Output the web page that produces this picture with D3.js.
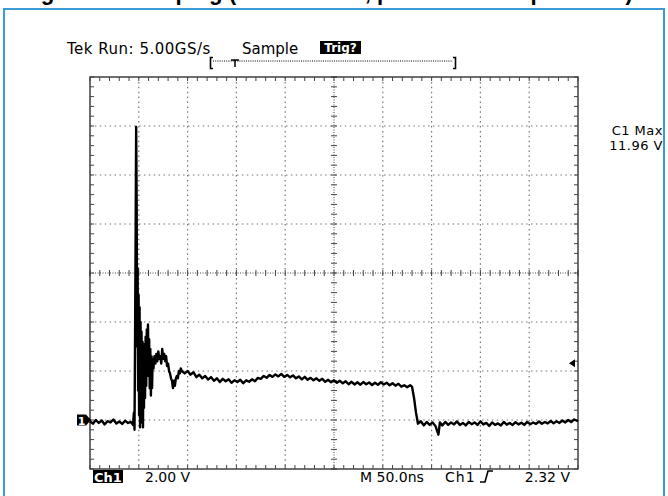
<!DOCTYPE html>
<html>
<head>
<meta charset="utf-8">
<script src="https://cdn.jsdelivr.net/npm/d3@7"></script>
<style>
  body { margin: 0; background: #fff; }
  svg { display: block; }
  text { font-family: "DejaVu Sans", Verdana, sans-serif; }
</style>
</head>
<body>
<div id="scope"></div>
<script>
// scope settings
var titleText = "Figure 3: Clamping (no Transorb, per Oscilloscope Probe)";
var headerLabels = ["Tek Run: 5.00GS/s", "Sample", "Trig?"];
var footerLabels = ["Ch1", "2.00 V", "M 50.0ns", "Ch1", "2.32 V"];
var measureLabels = ["C1 Max", "11.96 V"];
var timeDomain = [0, 500];      // ns, 50 ns/div
var voltDomain = [-2, 14];      // V, 2 V/div
var triggerLevel = 2.32;

// trace: time (ns) and volts
var traceTimes = [
  0, 3, 6, 9, 12, 15, 18, 21, 24, 27, 30, 33, 36, 39, 42, 44,
  45, 45.6, 46.2, 46.8, 47.3, 47.8, 48.3, 48.8, 49.3, 49.8, 50.3, 50.8, 51.3, 51.8, 52.3, 52.8,
  53.3, 53.8, 54.3, 54.8, 55.3, 55.8, 56.4, 57, 57.6, 58.2, 58.8, 59.4, 60, 60.6, 61.2, 61.8,
  62.4, 63, 63.6, 64.2, 65, 66, 67, 68, 69, 70, 71, 72, 73, 74, 75, 76, 77, 78, 79, 80,
  81, 82, 83, 84, 85, 86, 87, 88, 89, 90, 91, 92, 93, 94,
  97, 100, 103, 106, 109, 112, 115, 118, 121, 124, 127, 130, 133, 136, 139, 142, 145, 148,
  151, 154, 157, 160, 163, 166, 169, 172, 175, 178, 181, 184, 187, 190, 193, 196, 199, 202,
  205, 208, 211, 214, 217, 220, 223, 226, 229, 232, 235, 238, 241, 244, 247, 250, 253, 256,
  259, 262, 265, 268, 271, 274, 277, 280, 283, 286, 289, 292, 295, 298, 301, 304, 307, 310,
  313, 316, 319, 322, 325, 328, 330,
  332, 334, 336, 339, 342, 345, 348, 351, 354, 357, 358.5, 361, 364, 367, 370,
  373, 376, 379, 382, 385, 388, 391, 394, 397, 400, 403, 406, 409, 412, 415, 418, 421, 424,
  427, 430, 433, 436, 439, 442, 445, 448, 451, 454, 457, 460, 463, 466, 469, 472, 475, 478,
  481, 484, 487, 490, 493, 496, 500
];
var traceVolts = [
  -0.05, -0.15, 0.0, -0.12, -0.02, -0.18, -0.05, -0.1, 0.02, -0.14, -0.06, -0.16, -0.03, -0.12, -0.08, -0.2,
  0.3, -0.4, 3.5, 8.0, 11.96, 9.0, 3.0, 6.2, 1.2, 5.1, 0.2, 4.6, -0.3, 4.0, 0.6, 3.6,
  -0.1, 3.2, -0.3, 2.8, 0.5, 3.1, 0.9, 3.4, 1.4, 3.7, 2.1, 3.9, 1.8, 3.3, 1.3, 2.9,
  1.0, 2.6, 1.3, 2.5, 2.1, 2.6, 2.3, 2.7, 2.4, 2.8, 2.5, 2.6, 2.3, 2.9, 2.5, 2.7, 2.4, 2.6, 2.2, 2.3,
  2.0, 1.9, 1.7, 1.6, 1.3, 1.6, 1.4, 1.7, 1.8, 1.7, 2.0, 1.9, 2.1, 2.0,
  1.9, 2.0, 1.85, 1.95, 1.75, 1.85, 1.7, 1.8, 1.65, 1.75, 1.6, 1.7, 1.55, 1.68, 1.58, 1.66, 1.52, 1.62,
  1.55, 1.64, 1.5, 1.62, 1.56, 1.66, 1.58, 1.72, 1.68, 1.8, 1.72, 1.84, 1.76, 1.86, 1.78, 1.88, 1.76, 1.84,
  1.74, 1.82, 1.7, 1.78, 1.66, 1.76, 1.64, 1.72, 1.62, 1.7, 1.6, 1.68, 1.56, 1.64, 1.54, 1.62, 1.52, 1.6,
  1.5, 1.58, 1.46, 1.56, 1.45, 1.54, 1.44, 1.55, 1.46, 1.53, 1.43, 1.52, 1.44, 1.54, 1.45, 1.52, 1.42, 1.5,
  1.4, 1.48, 1.36, 1.42, 1.34, 1.42, 1.35,
  0.9, 0.3, -0.15, -0.05, -0.22, -0.08, -0.2, -0.1, -0.25, -0.6, -0.1, -0.22, -0.08, -0.2, -0.1,
  -0.18, -0.06, -0.2, -0.12, -0.22, -0.08, -0.17, -0.1, -0.2, -0.06, -0.18, -0.12, -0.24, -0.1, -0.2, -0.14, -0.22, -0.08,
  -0.19, -0.12, -0.2, -0.09, -0.18, -0.11, -0.2, -0.08, -0.17, -0.1, -0.16, -0.06, -0.15, -0.08, -0.14, -0.04, -0.13, -0.05,
  -0.12, -0.02, -0.1, 0.0, -0.08, 0.02, -0.05
];

var W = 668, H = 496;
var svg = d3.select("#scope").append("svg")
  .attr("width", W)
  .attr("height", H);

svg.append("rect").attr("width", W).attr("height", H).attr("fill", "#fff");

// blue frame of the page figure
svg.append("rect")
  .attr("x", 4).attr("y", 9)
  .attr("width", 660).attr("height", 500)
  .attr("fill", "none")
  .attr("stroke", "#3c9ad8")
  .attr("stroke-width", 2);

// title, cut off at the top edge (only the bottoms show)
svg.append("text")
  .attr("x", 21).attr("y", 0)
  .attr("textLength", 612)
  .attr("lengthAdjust", "spacingAndGlyphs")
  .style("font-family", "'Liberation Sans', Arial, sans-serif")
  .style("font-weight", "bold")
  .style("font-size", "24px")
  .text(titleText);

var x = d3.scaleLinear().domain(timeDomain).range([90, 578]);
var y = d3.scaleLinear().domain(voltDomain).range([469, 77]);

var majorX = d3.range(timeDomain[0], timeDomain[1] + 1, 50);
var majorY = d3.range(voltDomain[0], voltDomain[1] + 0.01, 2);
var minorX = d3.range(timeDomain[0], timeDomain[1] + 0.01, 10);
var minorY = d3.range(voltDomain[0], voltDomain[1] + 0.01, 0.4);
var midT = 250, midV = 6;

var grid = svg.append("g");

// dotted graticule lines
grid.selectAll(".gx").data(majorX.slice(1, -1).filter(d => d !== midT)).enter()
  .append("line")
  .attr("x1", d => x(d)).attr("x2", d => x(d))
  .attr("y1", y(voltDomain[1])).attr("y2", y(voltDomain[0]))
  .attr("stroke", "#777").attr("stroke-width", 1.2)
  .attr("stroke-dasharray", "1.5,3.4");
grid.selectAll(".gy").data(majorY.slice(1, -1).filter(d => d !== midV)).enter()
  .append("line")
  .attr("y1", d => y(d)).attr("y2", d => y(d))
  .attr("x1", x(timeDomain[0])).attr("x2", x(timeDomain[1]))
  .attr("stroke", "#777").attr("stroke-width", 1.2)
  .attr("stroke-dasharray", "1.5,3.4");

// centre cross with ticks
grid.append("line")
  .attr("x1", x(midT)).attr("x2", x(midT))
  .attr("y1", y(voltDomain[1])).attr("y2", y(voltDomain[0]))
  .attr("stroke", "#444").attr("stroke-dasharray", "1,1.5");
grid.append("line")
  .attr("y1", y(midV)).attr("y2", y(midV))
  .attr("x1", x(timeDomain[0])).attr("x2", x(timeDomain[1]))
  .attr("stroke", "#444").attr("stroke-dasharray", "1,1.5");
grid.selectAll(".cxt").data(minorX).enter().append("line")
  .attr("x1", d => x(d)).attr("x2", d => x(d))
  .attr("y1", y(midV) - 3).attr("y2", y(midV) + 3)
  .attr("stroke", "#444");
grid.selectAll(".cyt").data(minorY).enter().append("line")
  .attr("y1", d => y(d)).attr("y2", d => y(d))
  .attr("x1", x(midT) - 3).attr("x2", x(midT) + 3)
  .attr("stroke", "#444");

// border with minor ticks
grid.append("rect")
  .attr("x", x(timeDomain[0])).attr("y", y(voltDomain[1]))
  .attr("width", x(timeDomain[1]) - x(timeDomain[0]))
  .attr("height", y(voltDomain[0]) - y(voltDomain[1]))
  .attr("fill", "none").attr("stroke", "#222").attr("stroke-width", 1.3);
[y(voltDomain[1]), y(voltDomain[0])].forEach(function(yy, i) {
  grid.selectAll(".bt" + i).data(minorX).enter().append("line")
    .attr("x1", d => x(d)).attr("x2", d => x(d))
    .attr("y1", yy).attr("y2", i === 0 ? yy + 4 : yy - 4)
    .attr("stroke", "#444");
});
[x(timeDomain[0]), x(timeDomain[1])].forEach(function(xx, i) {
  grid.selectAll(".bl" + i).data(minorY).enter().append("line")
    .attr("y1", d => y(d)).attr("y2", d => y(d))
    .attr("x1", xx).attr("x2", i === 0 ? xx + 4 : xx - 4)
    .attr("stroke", "#444");
});

// waveform
var trace = traceTimes.map((t, i) => ({ t: t, v: traceVolts[i] }));
var line = d3.line().x(d => x(d.t)).y(d => y(d.v));
svg.append("path")
  .datum(trace)
  .attr("d", line)
  .attr("fill", "none")
  .attr("stroke", "#000")
  .attr("stroke-width", 2.4)
  .attr("stroke-linejoin", "round");

// ground marker "1"
var gy = y(0);
svg.append("rect").attr("x", 77).attr("y", gy - 5.5).attr("width", 9).attr("height", 11).attr("fill", "#000");
svg.append("path")
  .attr("d", "M86," + (gy - 5.5) + "L91," + gy + "L86," + (gy + 5.5) + "Z")
  .attr("fill", "#000");
svg.append("text").attr("x", 81.5).attr("y", gy + 4.5)
  .attr("text-anchor", "middle").attr("fill", "#fff")
  .style("font-size", "11px").style("font-weight", "bold").text("1");

// trigger level arrow
var ty = y(triggerLevel);
svg.append("path")
  .attr("d", "M569," + ty + "L575," + (ty - 4) + "L575," + (ty + 4) + "Z")
  .attr("fill", "#000");

// header
svg.append("text").attr("x", 67).attr("y", 54).style("font-size", "15px")
  .style("letter-spacing", "0.5px").text(headerLabels[0]);
svg.append("text").attr("x", 242).attr("y", 54).style("font-size", "15px").text(headerLabels[1]);
svg.append("rect").attr("x", 320).attr("y", 41).attr("width", 41).attr("height", 13).attr("fill", "#000");
svg.append("text").attr("x", 340.5).attr("y", 52).attr("text-anchor", "middle")
  .attr("fill", "#fff").style("font-size", "12px").style("font-weight", "bold").text(headerLabels[2]);

// record bar [ ...T... ]
var rb = svg.append("g").attr("stroke", "#000");
rb.append("path").attr("d", "M213,57.5H210.5V68.5H213").attr("fill", "none").attr("stroke-width", 1.6);
rb.append("path").attr("d", "M453,57.5H455.5V68.5H453").attr("fill", "none").attr("stroke-width", 1.6);
rb.append("line").attr("x1", 213).attr("x2", 453).attr("y1", 61).attr("y2", 61)
  .attr("stroke-dasharray", "1,1.2").attr("stroke-width", 1);
rb.append("path").attr("d", "M231,60H239M235,60V67").attr("fill", "none").attr("stroke-width", 1.5);

// footer
svg.append("rect").attr("x", 93).attr("y", 470).attr("width", 30).attr("height", 13).attr("fill", "#000");
svg.append("text").attr("x", 108).attr("y", 481.5).attr("text-anchor", "middle")
  .attr("fill", "#fff").style("font-size", "13px").style("font-weight", "bold").text(footerLabels[0]);
svg.append("text").attr("x", 145).attr("y", 482).style("font-size", "14px").text(footerLabels[1]);
svg.append("text").attr("x", 360).attr("y", 482).style("font-size", "14px").text(footerLabels[2]);
svg.append("text").attr("x", 445).attr("y", 482).style("font-size", "14px")
  .style("letter-spacing", "1px").text(footerLabels[3]);
svg.append("path").attr("d", "M480,482H485L488,471H493")
  .attr("fill", "none").attr("stroke", "#000").attr("stroke-width", 1.6);
svg.append("text").attr("x", 570).attr("y", 482).attr("text-anchor", "end")
  .style("font-size", "14px").text(footerLabels[4]);

// measurement readout
svg.append("text").attr("x", 663).attr("y", 135).attr("text-anchor", "end")
  .style("font-size", "13px").style("letter-spacing", "0.5px").text(measureLabels[0]);
svg.append("text").attr("x", 663).attr("y", 150).attr("text-anchor", "end")
  .style("font-size", "13px").style("letter-spacing", "0.5px").text(measureLabels[1]);
</script>
</body>
</html>
